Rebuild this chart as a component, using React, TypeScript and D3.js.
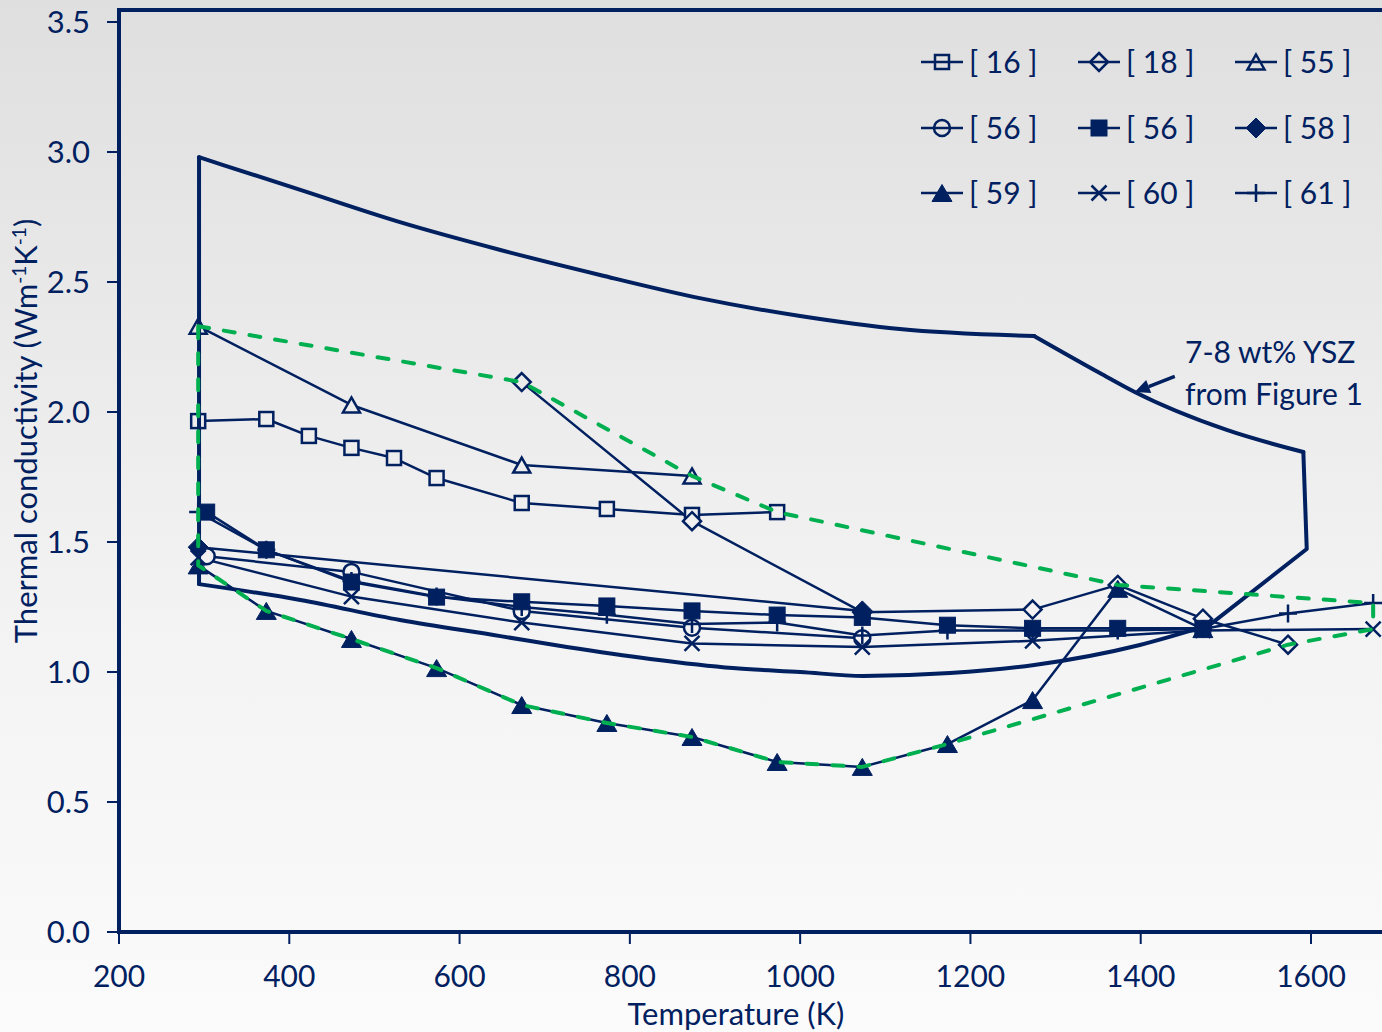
import React from 'react';
import * as d3 from 'd3';

const W = 1382;
const H = 1032;
const NAVY = '#002060';
const GREEN = '#00b050';
const FONT = 'Lato, "Open Sans", sans-serif';

// ---- axes ----
const xTicks = [200, 400, 600, 800, 1000, 1200, 1400, 1600];
const yTicks = [0, 0.5, 1.0, 1.5, 2.0, 2.5, 3.0, 3.5];

// ---- series data (temperature K, thermal conductivity W/mK) ----
const s16T = [293, 373, 423, 473, 523, 573, 673, 773, 873, 973];
const s16K = [1.965, 1.973, 1.908, 1.862, 1.823, 1.746, 1.65, 1.627, 1.604, 1.615];

const s18T = [673, 873, 1073, 1273, 1373, 1473, 1573];
const s18K = [2.115, 1.58, 1.23, 1.24, 1.335, 1.205, 1.105];

const s55T = [293, 473, 673, 873];
const s55K = [2.33, 2.027, 1.796, 1.754];

const s56oT = [303, 473, 673, 873, 1073];
const s56oK = [1.445, 1.385, 1.235, 1.17, 1.13];

const s56fT = [303, 373, 473, 573, 673, 773, 873, 973, 1073, 1173, 1273, 1373, 1473];
const s56fK = [1.615, 1.47, 1.346, 1.288, 1.27, 1.254, 1.235, 1.219, 1.21, 1.18, 1.168, 1.168, 1.168];

const s58T = [293, 1073];
const s58K = [1.48, 1.235];

const s59T = [293, 373, 473, 573, 673, 773, 873, 973, 1073, 1173, 1273, 1373, 1473];
const s59K = [1.41, 1.235, 1.127, 1.015, 0.873, 0.804, 0.75, 0.654, 0.635, 0.723, 0.892, 1.32, 1.165];

const s60T = [293, 473, 673, 873, 1073, 1273, 1473, 1673];
const s60K = [1.44, 1.29, 1.19, 1.11, 1.096, 1.12, 1.16, 1.165];

const s61T = [293, 373, 473, 573, 673, 773, 873, 973, 1073, 1173, 1273, 1373, 1473, 1573, 1673];
const s61K = [1.615, 1.47, 1.35, 1.29, 1.25, 1.22, 1.185, 1.19, 1.14, 1.16, 1.16, 1.16, 1.165, 1.225, 1.265];

const seriesLabels = ['[ 16 ]', '[ 18 ]', '[ 55 ]', '[ 56 ]', '[ 56 ]', '[ 58 ]', '[ 59 ]', '[ 60 ]', '[ 61 ]'];
const seriesT = [s16T, s18T, s55T, s56oT, s56fT, s58T, s59T, s60T, s61T];
const seriesK = [s16K, s18K, s55K, s56oK, s56fK, s58K, s59K, s60K, s61K];

// ---- YSZ band (7-8 wt% YSZ from Figure 1) ----
const yszUpperAT = [294, 413, 530, 648, 765, 882, 1000, 1117, 1275];
const yszUpperAK = [2.98, 2.854, 2.73, 2.623, 2.527, 2.438, 2.369, 2.319, 2.292];
const yszUpperBT = [1275, 1352, 1393, 1501, 1591];
const yszUpperBK = [2.292, 2.15, 2.077, 1.931, 1.846];
const yszRightT = [1591, 1595, 1481];
const yszRightK = [1.846, 1.473, 1.181];
const yszLowerT = [294, 413, 530, 648, 726, 824, 921, 1000, 1074, 1176, 1275, 1399, 1481];
const yszLowerK = [1.338, 1.277, 1.2, 1.138, 1.096, 1.05, 1.015, 1.0, 0.985, 0.996, 1.027, 1.104, 1.181];

// ---- green dashed envelope ----
const envT = [293, 673, 873, 973, 1373, 1673, 1673, 1573, 1173, 1073, 973, 873, 773, 673, 573, 473, 373, 293];
const envK = [2.33, 2.115, 1.754, 1.615, 1.335, 1.265, 1.165, 1.105, 0.723, 0.635, 0.654, 0.75, 0.804, 0.873, 1.015, 1.127, 1.235, 1.41];

// ---- annotation (data coords) ----
const annoText = ['7-8 wt% YSZ', 'from Figure 1'];
const arrowFrom = [1440, 2.137];
const arrowTo = [1393, 2.077];

// marker style per series
const markerShapes = ['square', 'diamond', 'triangle', 'circle', 'square', 'diamond', 'triangle', 'x', 'plus'];
const markerFilled = [false, false, false, false, true, true, true, false, false];

const x = d3.scaleLinear().domain([200, 1600]).range([119, 1311]);
const y = d3.scaleLinear().domain([0, 3.5]).range([932, 22]);

const bgColor = (py: number) => {
  const t = Math.max(0, Math.min(1, py / H));
  if (t < 0.6) return d3.interpolateRgb('#dfdfdf', '#f3f3f3')(t / 0.6);
  return d3.interpolateRgb('#f3f3f3', '#fbfbfb')((t - 0.6) / 0.4);
};

function Marker({ shape, filled, cx, cy, fill }: any) {
  const sw = 2.5;
  const f = filled ? NAVY : fill;
  if (shape === 'square') {
    const s = filled ? 16 : 14;
    return <rect x={cx - s / 2} y={cy - s / 2} width={s} height={s} fill={f} stroke={NAVY} strokeWidth={filled ? 1 : sw} />;
  }
  if (shape === 'diamond') {
    const r = filled ? 10 : 9;
    return <path d={`M${cx},${cy - r}L${cx + r},${cy}L${cx},${cy + r}L${cx - r},${cy}Z`} fill={f} stroke={NAVY} strokeWidth={filled ? 1 : sw} strokeLinejoin="miter" />;
  }
  if (shape === 'triangle') {
    const w = filled ? 20 : 17;
    const h = filled ? 17 : 15;
    return <path d={`M${cx},${cy - h / 2}L${cx + w / 2},${cy + h / 2}L${cx - w / 2},${cy + h / 2}Z`} fill={f} stroke={NAVY} strokeWidth={filled ? 1 : sw} strokeLinejoin="miter" />;
  }
  if (shape === 'circle') {
    return <circle cx={cx} cy={cy} r={8} fill={f} stroke={NAVY} strokeWidth={sw} />;
  }
  if (shape === 'x') {
    const r = 7.5;
    return <path d={`M${cx - r},${cy - r}L${cx + r},${cy + r}M${cx - r},${cy + r}L${cx + r},${cy - r}`} stroke={NAVY} strokeWidth={sw} fill="none" />;
  }
  const r = 9;
  return <path d={`M${cx - r},${cy}L${cx + r},${cy}M${cx},${cy - r}L${cx},${cy + r}`} stroke={NAVY} strokeWidth={sw} fill="none" />;
}

export default function App() {
  const line = d3.line<[number, number]>().x((d) => x(d[0])).y((d) => y(d[1]));
  const smooth = d3.line<[number, number]>().x((d) => x(d[0])).y((d) => y(d[1])).curve(d3.curveMonotoneX);
  const zip = (a: number[], b: number[]) => a.map((v, i) => [v, b[i]] as [number, number]);

  const envPath = line(zip(envT, envK)) + 'Z';

  const legendCols = [921, 1078, 1235];
  const legendRows = [62, 128, 193];

  const a0 = [x(arrowFrom[0]), y(arrowFrom[1])];
  const a1 = [x(arrowTo[0]), y(arrowTo[1])];
  const ang = Math.atan2(a1[1] - a0[1], a1[0] - a0[0]);
  const hl = 15, hw = 7;
  const bx = a1[0] - hl * Math.cos(ang), by = a1[1] - hl * Math.sin(ang);
  const head = `M${a1[0]},${a1[1]}L${bx + hw * Math.sin(ang)},${by - hw * Math.cos(ang)}L${bx - hw * Math.sin(ang)},${by + hw * Math.cos(ang)}Z`;

  return (
    <svg width={W} height={H} style={{ position: 'absolute', left: 0, top: 0, display: 'block' }} fontFamily={FONT}>
      <defs>
        <linearGradient id="bg" x1="0" y1="0" x2="0" y2={H} gradientUnits="userSpaceOnUse">
          <stop offset="0" stopColor="#dfdfdf" />
          <stop offset="0.6" stopColor="#f3f3f3" />
          <stop offset="1" stopColor="#fbfbfb" />
        </linearGradient>
      </defs>
      <rect x={0} y={0} width={W} height={H} fill="url(#bg)" />

      {/* series */}
      {seriesT.map((ts, si) => (
        <g key={'s' + si}>
          <path d={line(zip(ts, seriesK[si])) || ''} fill="none" stroke={NAVY} strokeWidth={2.5} strokeLinejoin="round" />
        </g>
      ))}
      {seriesT.map((ts, si) => (
        <g key={'m' + si}>
          {ts.map((t, i) => {
            const cx = x(t), cy = y(seriesK[si][i]);
            return <Marker key={i} shape={markerShapes[si]} filled={markerFilled[si]} cx={cx} cy={cy} fill={bgColor(cy)} />;
          })}
        </g>
      ))}

      {/* YSZ band */}
      <g fill="none" stroke={NAVY} strokeWidth={4} strokeLinejoin="round" strokeLinecap="round">
        <path d={smooth(zip(yszUpperAT, yszUpperAK)) || ''} />
        <path d={smooth(zip(yszUpperBT, yszUpperBK)) || ''} />
        <path d={line(zip(yszRightT, yszRightK)) || ''} />
        <path d={smooth(zip(yszLowerT, yszLowerK)) || ''} />
        <path d={line([[yszUpperAT[0], yszUpperAK[0]], [yszLowerT[0], yszLowerK[0]]]) || ''} />
      </g>

      {/* green envelope */}
      <path d={envPath} fill="none" stroke={GREEN} strokeWidth={4} strokeDasharray="11 15" strokeLinecap="round" strokeLinejoin="round" />

      {/* axes */}
      <line x1={119} y1={10} x2={W} y2={10} stroke={NAVY} strokeWidth={4} />
      <line x1={119} y1={8} x2={119} y2={934} stroke={NAVY} strokeWidth={4} />
      <line x1={117} y1={932} x2={W} y2={932} stroke={NAVY} strokeWidth={4} />
      {yTicks.map((v) => (
        <g key={'yt' + v}>
          <line x1={107} x2={119} y1={y(v)} y2={y(v)} stroke={NAVY} strokeWidth={2} />
          <text x={90} y={y(v)} dy="0.36em" textAnchor="end" fontSize={31} fill={NAVY}>{v.toFixed(1)}</text>
        </g>
      ))}
      {xTicks.map((v) => (
        <g key={'xt' + v}>
          <line x1={x(v)} x2={x(v)} y1={932} y2={944} stroke={NAVY} strokeWidth={2} />
          <text x={x(v)} y={987} textAnchor="middle" fontSize={30} fill={NAVY}>{v}</text>
        </g>
      ))}
      <text x={736} y={1025} textAnchor="middle" fontSize={31} fill={NAVY}>Temperature (K)</text>
      <text transform="translate(37,431) rotate(-90)" textAnchor="middle" fontSize={31} fill={NAVY}>
        Thermal conductivity (Wm<tspan fontSize={19} dy={-11}>-1</tspan><tspan dy={11}>K</tspan><tspan fontSize={19} dy={-11}>-1</tspan><tspan dy={11}>)</tspan>
      </text>

      {/* legend */}
      {seriesLabels.map((lab, i) => {
        const lx = legendCols[i % 3];
        const ly = legendRows[Math.floor(i / 3)];
        return (
          <g key={'lg' + i}>
            <Marker shape={markerShapes[i]} filled={markerFilled[i]} cx={lx + 21} cy={ly} fill="none" />
            <line x1={lx} x2={lx + 42} y1={ly} y2={ly} stroke={NAVY} strokeWidth={2.5} />
            <text x={lx + 48} y={ly} dy="0.36em" fontSize={30} fill={NAVY}>{lab}</text>
          </g>
        );
      })}

      {/* annotation */}
      <line x1={a0[0]} y1={a0[1]} x2={bx} y2={by} stroke={NAVY} strokeWidth={3.5} />
      <path d={head} fill={NAVY} />
      <text x={1185} y={363} fontSize={30} fill={NAVY}>{annoText[0]}</text>
      <text x={1185} y={405} fontSize={30} fill={NAVY}>{annoText[1]}</text>
    </svg>
  );
}
